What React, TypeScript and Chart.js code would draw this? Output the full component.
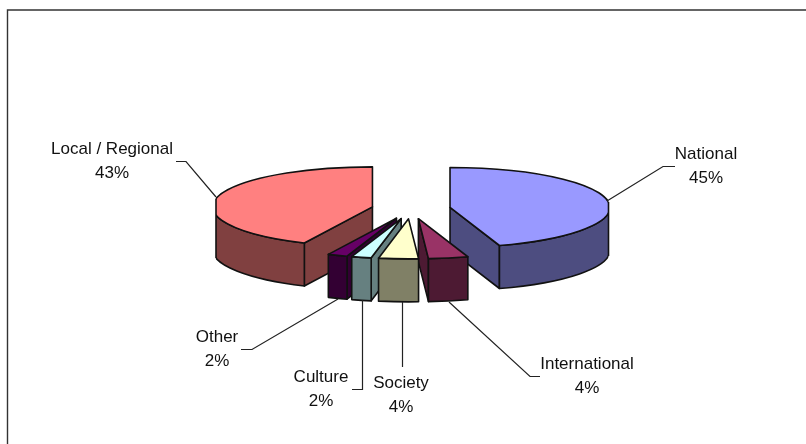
import React, { useEffect, useRef } from "react";
import { Chart, registerables } from "chart.js";

Chart.register(...registerables);

const categories = ["National", "International", "Society", "Culture", "Other", "Local / Regional"];
const shares = [45, 4, 4, 2, 2, 43];
const topColours = ["#9999FF", "#993366", "#FFFFCC", "#CCFFFF", "#660066", "#FF8080"];
const sideColours = ["#4D4D80", "#4D1A33", "#808066", "#668080", "#330033", "#804040"];

// Pie projection: vertical squash, wall height and how far each slice is pulled out.
const RADIUS = 160;
const TILT = 0.25;
const DEPTH = 43;
const EXPLODE = 39.5;
// The plot box trims the outermost bulge of the two big slices.
const PLOT_LEFT = 216;
const PLOT_RIGHT = 608.5;

// Callout anchors: label centre and the leader polyline, per category.
const labelCentres = [
  [706, 154],
  [587, 364],
  [401, 383],
  [321, 377],
  [217, 337],
  [112, 149],
];
const leaders = [
  [[607, 201], [663, 166.5], [675, 166.5]],
  [[449, 302], [530, 376.5], [540, 376.5]],
  [[402.5, 302], [402.5, 367]],
  [[362.5, 300], [362.5, 389.5], [352, 389.5]],
  [[338, 299], [252, 349.5], [241, 349.5]],
  [[216, 197], [186, 161.5], [176, 161.5]],
];

const pie3d = {
  id: "pie3d",
  beforeDraw(chart: any) {
    const { ctx, width, height } = chart;
    ctx.save();
    ctx.fillStyle = "#fff";
    ctx.fillRect(0, 0, width, height);
    ctx.strokeStyle = "#333";
    ctx.lineWidth = 1.4;
    ctx.beginPath();
    ctx.moveTo(7.5, height);
    ctx.lineTo(7.5, 10);
    ctx.lineTo(width, 10);
    ctx.stroke();
    ctx.restore();
  },
  beforeDatasetsDraw(chart: any) {
    const { ctx, height } = chart;
    const arcs = chart.getDatasetMeta(0).data.map((arc: any, index: number) => ({ arc, index }));
    const mid = (a: any) => (a.startAngle + a.endAngle) / 2;
    arcs.sort((p: any, q: any) => Math.sin(mid(p.arc)) - Math.sin(mid(q.arc)));

    ctx.save();
    ctx.lineJoin = "round";
    ctx.strokeStyle = "#111";
    ctx.lineWidth = 1.6;

    for (const { arc, index } of arcs) {
      const m = mid(arc);
      const cx = arc.x + Math.cos(m) * EXPLODE;
      const cy = arc.y + Math.sin(m) * EXPLODE * TILT;
      const rx = arc.outerRadius;
      const ry = rx * TILT;
      const at = (a: number) => [cx + rx * Math.cos(a), cy + ry * Math.sin(a)];
      const { startAngle: a0, endAngle: a1 } = arc;

      ctx.save();
      ctx.beginPath();
      ctx.rect(PLOT_LEFT, 0, PLOT_RIGHT - PLOT_LEFT, height);
      ctx.clip();

      const face = (points: number[][]) => {
        ctx.beginPath();
        points.forEach(([x, y], i) => (i ? ctx.lineTo(x, y) : ctx.moveTo(x, y)));
        ctx.closePath();
        ctx.fillStyle = sideColours[index];
        ctx.fill();
        ctx.stroke();
      };
      const wall = (a: number) => {
        const [x, y] = at(a);
        return [[cx, cy], [x, y], [x, y + DEPTH], [cx, cy + DEPTH]];
      };

      // Only the walls turned towards the viewer are painted.
      if (Math.cos(a0) < 0) face(wall(a0));
      if (Math.cos(a1) > 0) face(wall(a1));
      const w0 = Math.max(a0, 0);
      const w1 = Math.min(a1, Math.PI);
      if (w1 > w0) {
        ctx.beginPath();
        ctx.ellipse(cx, cy, rx, ry, 0, w0, w1);
        ctx.ellipse(cx, cy + DEPTH, rx, ry, 0, w1, w0, true);
        ctx.closePath();
        ctx.fillStyle = sideColours[index];
        ctx.fill();
        ctx.stroke();
      }

      // The top face is the library's own arc, squashed into the tilted plane.
      ctx.save();
      ctx.translate(cx, cy);
      ctx.scale(1, TILT);
      ctx.translate(-arc.x, -arc.y);
      arc.draw(ctx);
      ctx.restore();

      ctx.beginPath();
      ctx.moveTo(cx, cy);
      ctx.ellipse(cx, cy, rx, ry, 0, a0, a1);
      ctx.closePath();
      ctx.stroke();
      ctx.restore();

      // Outline the vertical edge left where the plot box trims a slice.
      const trimEdge = (x: number) => {
        const ratio = (x - cx) / rx;
        if (Math.abs(ratio) >= 1) return;
        const h = ry * Math.sqrt(1 - ratio * ratio);
        ctx.beginPath();
        ctx.moveTo(x, cy - h);
        ctx.lineTo(x, cy + h + DEPTH);
        ctx.stroke();
      };
      if (a0 < Math.PI && a1 > Math.PI) trimEdge(PLOT_LEFT);
      if (a0 < 0 && a1 > 0) trimEdge(PLOT_RIGHT);
    }
    ctx.restore();
    return false;
  },
  afterDraw(chart: any) {
    const { ctx } = chart;
    ctx.save();
    ctx.strokeStyle = "#222";
    ctx.lineWidth = 1.2;
    for (const line of leaders) {
      ctx.beginPath();
      line.forEach(([x, y], i) => (i ? ctx.lineTo(x, y) : ctx.moveTo(x, y)));
      ctx.stroke();
    }
    ctx.fillStyle = "#111";
    ctx.font = '17px "Liberation Sans", Arial, sans-serif';
    ctx.textAlign = "center";
    ctx.textBaseline = "middle";
    categories.forEach((name, i) => {
      const [x, y] = labelCentres[i];
      ctx.fillText(name, x, y);
      ctx.fillText(`${shares[i]}%`, x, y + 24);
    });
    ctx.restore();
  },
};

export default function App() {
  const canvasRef = useRef<HTMLCanvasElement>(null);

  useEffect(() => {
    const chart = new Chart(canvasRef.current as HTMLCanvasElement, {
      type: "pie",
      data: {
        labels: categories,
        datasets: [
          {
            data: shares,
            backgroundColor: topColours,
            borderWidth: 0,
            radius: RADIUS,
          },
        ],
      },
      options: {
        responsive: false,
        animation: false,
        layout: { padding: { left: 16, bottom: 26 } },
        plugins: { legend: { display: false }, tooltip: { enabled: false } },
      },
      plugins: [pie3d],
    } as any);
    return () => chart.destroy();
  }, []);

  return (
    <div style={{ position: "fixed", left: 0, top: 0 }}>
      <canvas ref={canvasRef} width={806} height={444} style={{ display: "block" }} />
    </div>
  );
}
